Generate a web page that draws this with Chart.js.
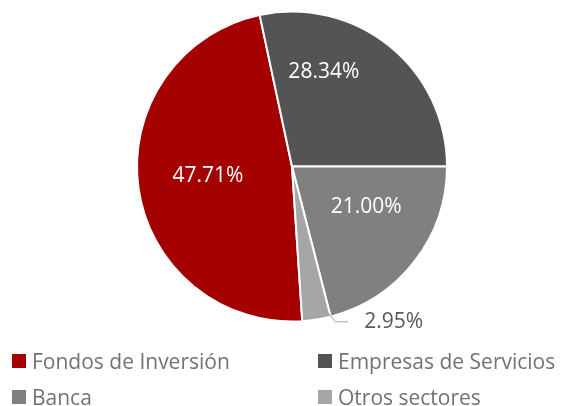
<!DOCTYPE html>
<html>
<head>
<meta charset="utf-8">
<script src="https://cdn.jsdelivr.net/npm/chart.js@4/dist/chart.umd.min.js"></script>
<style>
  html, body { margin: 0; padding: 0; background: #fff; }
  #wrap { position: relative; width: 565px; height: 406px; overflow: hidden; }
  #c { position: absolute; left: 0; top: 0; }
  .lg { position: absolute; display: flex; align-items: center; font-family: "Open Sans", sans-serif; font-size: 21px; color: #767171; white-space: nowrap; height: 22px; }
  .lg span.sw { display: inline-block; width: 14px; height: 14px; margin-right: 6px; }
</style>
</head>
<body>
<div id="wrap">
  <canvas id="c" width="565" height="406"></canvas>
  <div id="legend"></div>
</div>
<script>
const categories = ["Fondos de Inversión", "Empresas de Servicios", "Banca", "Otros sectores"];
const shares = [47.71, 28.34, 21.00, 2.95];
const valueLabels = ["47.71%", "28.34%", "21.00%", "2.95%"];
const colors = ["#A50000", "#545454", "#808080", "#A6A6A6"];

// label placement (fraction along slice angle, fraction of radius), style only
const labelPlacement = [
  { a: 0.51, r: 0.545, inside: true },
  { a: 0.30, r: 0.645, inside: true },
  { a: 0.38, r: 0.545, inside: true },
  { a: 0.05, r: 0.97, inside: false }
];

const labelPlugin = {
  id: 'sliceLabels',
  afterDatasetsDraw(chart) {
    const ctx = chart.ctx;
    const meta = chart.getDatasetMeta(0);
    meta.data.forEach((arc, i) => {
      const p = arc.getProps(['x', 'y', 'startAngle', 'endAngle', 'outerRadius'], true);
      const pl = labelPlacement[i];
      const ang = p.startAngle + pl.a * (p.endAngle - p.startAngle);
      ctx.save();
      ctx.font = '21px "Open Sans", sans-serif';
      ctx.textBaseline = 'middle';
      if (pl.inside) {
        const x = p.x + Math.cos(ang) * pl.r * p.outerRadius;
        const y = p.y + Math.sin(ang) * pl.r * p.outerRadius;
        ctx.fillStyle = '#ffffff';
        ctx.textAlign = 'center';
        ctx.fillText(valueLabels[i], x, y);
      } else {
        const x0 = p.x + Math.cos(ang) * pl.r * p.outerRadius;
        const y0 = p.y + Math.sin(ang) * pl.r * p.outerRadius;
        const ang2 = p.startAngle - 0.02;
        const x1 = p.x + Math.cos(ang2) * 1.04 * p.outerRadius;
        const y1 = p.y + Math.sin(ang2) * 1.04 * p.outerRadius;
        const x2 = x1 + 13;
        ctx.strokeStyle = '#A6A6A6';
        ctx.lineWidth = 1;
        ctx.beginPath();
        ctx.moveTo(x0, y0);
        ctx.lineTo(x1, y1);
        ctx.lineTo(x2, y1);
        ctx.stroke();
        ctx.fillStyle = '#595959';
        ctx.textAlign = 'left';
        ctx.fillText(valueLabels[i], x2 + 16, y1);
      }
      ctx.restore();
    });
  }
};

new Chart(document.getElementById('c'), {
  type: 'pie',
  data: {
    labels: categories,
    datasets: [{
      data: shares,
      backgroundColor: colors,
      borderColor: '#ffffff',
      borderWidth: 2
    }]
  },
  options: {
    responsive: false,
    animation: false,
    rotation: 176.2,
    layout: { padding: { left: 19, right: 0, top: 10.5, bottom: 83.5 } },
    plugins: {
      legend: { display: false },
      tooltip: { enabled: false }
    }
  },
  plugins: [labelPlugin]
});

// HTML legend in two columns
const legendPos = [
  { left: 12, top: 350 },
  { left: 318, top: 350 },
  { left: 12, top: 386 },
  { left: 318, top: 386 }
];
const lg = document.getElementById('legend');
categories.forEach((name, i) => {
  const d = document.createElement('div');
  d.className = 'lg';
  d.style.left = legendPos[i].left + 'px';
  d.style.top = legendPos[i].top + 'px';
  const sw = document.createElement('span');
  sw.className = 'sw';
  sw.style.background = colors[i];
  d.appendChild(sw);
  d.appendChild(document.createTextNode(name));
  lg.appendChild(d);
});
</script>
</body>
</html>
